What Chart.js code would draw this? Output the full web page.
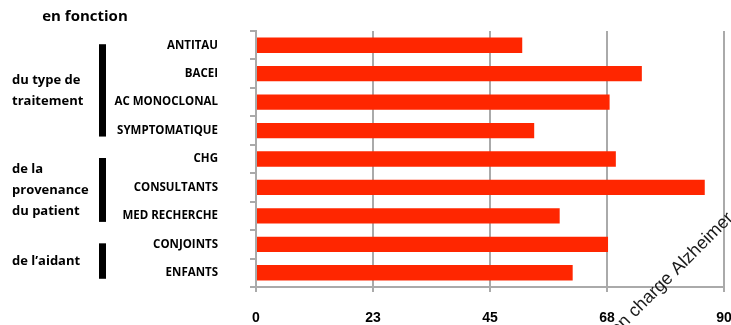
<!DOCTYPE html>
<html>
<head>
<meta charset="utf-8">
<script src="https://cdn.jsdelivr.net/npm/chart.js@4.4.1/dist/chart.umd.min.js"></script>
<style>
  html, body { margin: 0; padding: 0; background: #fff; overflow: hidden; }
  #wrap { width: 731px; height: 325px; position: relative; }
</style>
</head>
<body>
<div id="wrap"><canvas id="barChart"></canvas></div>
<script>
var categories = ["ANTITAU", "BACEI", "AC MONOCLONAL", "SYMPTOMATIQUE", "CHG", "CONSULTANTS", "MED RECHERCHE", "CONJOINTS", "ENFANTS"];
var values = [51.2, 74.2, 68.0, 53.5, 69.2, 86.3, 58.4, 67.7, 60.9];
var xTickLabels = ["0", "23", "45", "68", "90"];
var groupLabels = [["du type de", "traitement"], ["de la", "provenance", "du patient"], ["de l\u2019aidant"]];
var groupRanges = [[0, 3], [4, 6], [7, 8]];
var headerText = "en fonction";
var axisTitle = "Prise en charge Alzheimer";

var annotations = {
    id: 'annotations',
    afterDraw: function (chart) {
        var ctx = chart.ctx;
        var y = chart.scales.y;
        ctx.save();
        ctx.fillStyle = '#000';
        ctx.font = 'bold 15px "Open Sans"';
        ctx.textAlign = 'center';
        ctx.textBaseline = 'middle';
        ctx.fillText(headerText, 85, 17);

        // group brackets + their labels
        ctx.font = 'bold 13px "Open Sans"';
        ctx.textAlign = 'left';
        groupRanges.forEach(function (r, i) {
            var top = y.getPixelForValue(r[0]) - 1;
            var bottom = y.getPixelForValue(r[1]) + 6;
            ctx.fillRect(99, top, 7, bottom - top);
            var lines = groupLabels[i];
            var mid = (top + bottom) / 2;
            lines.forEach(function (t, j) {
                ctx.fillText(t, 12, mid + (j - (lines.length - 1) / 2) * 21);
            });
        });

        // rotated title, cut by the bottom edge
        ctx.font = '18px "Liberation Sans"';
        ctx.fillStyle = '#1a1a1a';
        ctx.textAlign = 'right';
        ctx.textBaseline = 'alphabetic';
        ctx.translate(734, 219);
        ctx.rotate(-Math.PI / 4);
        ctx.fillText(axisTitle, 0, 0);
        ctx.restore();
    }
};

var ctb = document.getElementById("barChart");
var barChart = new Chart(ctb, {
    type: 'bar',
    data: {
        labels: categories,
        datasets: [{
            data: values,
            backgroundColor: '#ff2600',
            borderWidth: 0,
            barPercentage: 0.54,
            categoryPercentage: 1.0,
        }],
    },
    options: {
        indexAxis: 'y',
        responsive: true,
        maintainAspectRatio: false,
        animation: false,
        layout: {
            padding: { top: 31, right: 7, left: 0, bottom: 0 }
        },
        plugins: {
            legend: { display: false },
            tooltip: { enabled: false },
        },
        scales: {
            x: {
                min: 0,
                max: 90,
                ticks: {
                    stepSize: 22.5,
                    padding: 18,
                    color: '#000',
                    font: { family: 'Liberation Sans', size: 14, weight: 'bold' },
                    maxRotation: 0,
                    callback: function (v, i) { return xTickLabels[i]; }
                },
                grid: { color: '#aaaaaa', lineWidth: 2, tickLength: 5 },
                border: { color: '#aaaaaa', width: 2 },
                afterFit: function (scale) {
                    scale.height = 38;
                    scale.paddingRight = 0;
                    scale.paddingLeft = 0;
                }
            },
            y: {
                ticks: {
                    padding: 32,
                    color: '#000',
                    font: { family: 'Open Sans', size: 11.5, weight: 'bold' },
                },
                grid: { drawOnChartArea: false, offset: true, color: '#aaaaaa', lineWidth: 2, tickLength: 6 },
                border: { color: '#aaaaaa', width: 2 },
                afterFit: function (scale) {
                    scale.width = 256;
                    scale.paddingTop = 0;
                    scale.paddingBottom = 0;
                }
            }
        }
    },
    plugins: [annotations]
});
</script>
</body>
</html>
